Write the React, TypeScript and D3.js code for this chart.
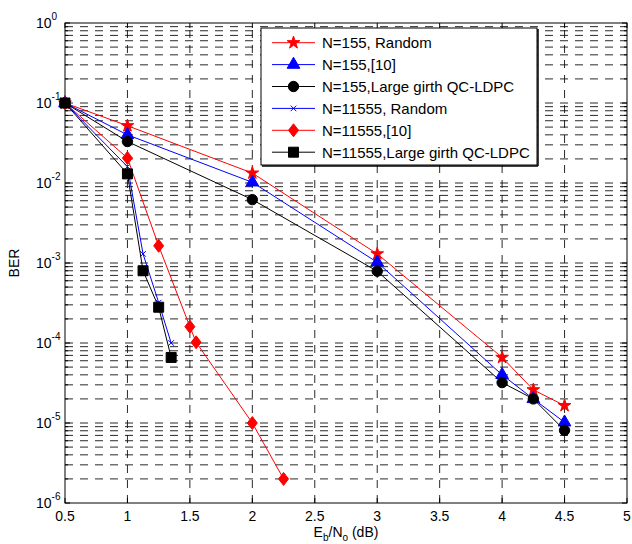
import React, { useEffect, useRef } from 'react';
import * as d3 from 'd3';

// Eb/N0 (dB) and BER for each curve
const n155RandomX = [0.5, 1, 2, 3, 4, 4.25, 4.5];
const n155RandomY = [0.1, 0.052, 0.0133, 0.0013, 6.6e-5, 2.6e-5, 1.65e-5];

const n155RefX = [0.5, 1, 2, 3, 4, 4.25, 4.5];
const n155RefY = [0.1, 0.04, 0.0102, 1.02e-3, 4e-5, 2e-5, 1.02e-5];

const n155QcX = [0.5, 1, 2, 3, 4, 4.25, 4.5];
const n155QcY = [0.1, 0.033, 0.0062, 7.9e-4, 3.2e-5, 2e-5, 8.1e-6];

const n11555RandomX = [0.5, 1, 1.125, 1.25, 1.35];
const n11555RandomY = [0.1, 0.016, 1.3e-3, 3.2e-4, 1e-4];

const n11555RefX = [0.5, 1, 1.25, 1.5, 1.55, 2, 2.25];
const n11555RefY = [0.1, 0.0205, 1.64e-3, 1.6e-4, 1.02e-4, 1e-5, 2e-6];

const n11555QcX = [0.5, 1, 1.125, 1.25, 1.35];
const n11555QcY = [0.1, 0.013, 8e-4, 2.8e-4, 6.6e-5];

const xTicks = [0.5, 1, 1.5, 2, 2.5, 3, 3.5, 4, 4.5, 5];
const yExponents = [0, -1, -2, -3, -4, -5, -6];

const series = [
  { name: 'N=155, Random', xs: n155RandomX, ys: n155RandomY, color: '#ff0000', marker: 'star' },
  { name: 'N=155,[10]', xs: n155RefX, ys: n155RefY, color: '#0000ff', marker: 'triangle' },
  { name: 'N=155,Large girth QC-LDPC', xs: n155QcX, ys: n155QcY, color: '#000000', marker: 'circle' },
  { name: 'N=11555, Random', xs: n11555RandomX, ys: n11555RandomY, color: '#0000ff', marker: 'x' },
  { name: 'N=11555,[10]', xs: n11555RefX, ys: n11555RefY, color: '#ff0000', marker: 'diamond' },
  { name: 'N=11555,Large girth QC-LDPC', xs: n11555QcX, ys: n11555QcY, color: '#000000', marker: 'square' },
];

const FONT = 'Arial, "Liberation Sans", sans-serif';

function markerPath(kind: string): string {
  switch (kind) {
    case 'star': return d3.symbol(d3.symbolStar, 50)() as string;
    case 'triangle': return d3.symbol(d3.symbolTriangle, 70)() as string;
    case 'circle': return d3.symbol(d3.symbolCircle, 85)() as string;
    case 'square': return d3.symbol(d3.symbolSquare, 100)() as string;
    case 'x': return d3.symbol(d3.symbolX, 22)() as string;
    default: return 'M0,-6.5L5,0L0,6.5L-5,0Z';
  }
}

function App() {
  const ref = useRef<SVGSVGElement>(null);

  useEffect(() => {
    const svg = d3.select(ref.current);
    svg.selectAll('*').remove();

    const left = 65, right = 627, top = 23, bottom = 503;
    const x = d3.scaleLinear().domain([0.5, 5]).range([left, right]);
    const y = d3.scaleLog().domain([1e-6, 1]).range([bottom, top]);

    svg.append('rect').attr('width', 632).attr('height', 544).attr('fill', '#fff');

    // grid
    const grid = svg.append('g')
      .attr('stroke', '#111')
      .attr('stroke-width', 0.9)
      .attr('stroke-dasharray', '8,7')
      .attr('fill', 'none');

    xTicks.slice(1, -1).forEach(t => {
      grid.append('line')
        .attr('x1', x(t)).attr('x2', x(t))
        .attr('y1', bottom).attr('y2', top);
    });

    const yGrid: number[] = [];
    for (let e = -6; e < 0; e++) {
      for (let m = 1; m <= 9; m++) {
        const v = m * Math.pow(10, e);
        if (e === -6 && m === 1) continue;
        yGrid.push(v);
      }
    }
    yGrid.forEach(v => {
      grid.append('line')
        .attr('x1', left).attr('x2', right)
        .attr('y1', y(v)).attr('y2', y(v));
    });

    // ticks
    const ticks = svg.append('g').attr('stroke', '#000').attr('stroke-width', 1);
    xTicks.forEach(t => {
      ticks.append('line').attr('x1', x(t)).attr('x2', x(t)).attr('y1', bottom).attr('y2', bottom - 5);
      ticks.append('line').attr('x1', x(t)).attr('x2', x(t)).attr('y1', top).attr('y2', top + 5);
    });
    yGrid.concat([1e-6, 1]).forEach(v => {
      const major = Math.abs(Math.log10(v) - Math.round(Math.log10(v))) < 1e-9;
      const len = major ? 5 : 3;
      ticks.append('line').attr('x1', left).attr('x2', left + len).attr('y1', y(v)).attr('y2', y(v));
      ticks.append('line').attr('x1', right).attr('x2', right - len).attr('y1', y(v)).attr('y2', y(v));
    });

    svg.append('rect')
      .attr('x', left).attr('y', top)
      .attr('width', right - left).attr('height', bottom - top)
      .attr('fill', 'none').attr('stroke', '#000').attr('stroke-width', 1);

    // tick labels
    const xl = svg.append('g').attr('font-family', FONT).attr('font-size', 14).attr('fill', '#000');
    xTicks.forEach(t => {
      xl.append('text').attr('x', x(t)).attr('y', 521).attr('text-anchor', 'middle').text(String(t));
    });

    yExponents.forEach(e => {
      const ty = y(Math.pow(10, e));
      const txt = xl.append('text').attr('x', 36).attr('y', ty + 5);
      txt.append('tspan').text('10');
      txt.append('tspan').attr('font-size', 10).attr('dy', -8).text(String(e));
    });

    // axis labels
    svg.append('text')
      .attr('font-family', FONT).attr('font-size', 14)
      .attr('text-anchor', 'middle')
      .attr('transform', `translate(19,${(top + bottom) / 2}) rotate(-90)`)
      .text('BER');

    const xlab = svg.append('text')
      .attr('font-family', FONT).attr('font-size', 14)
      .attr('x', 346).attr('y', 537).attr('text-anchor', 'middle');
    xlab.append('tspan').text('E');
    xlab.append('tspan').attr('font-size', 10).attr('dy', 4).text('b');
    xlab.append('tspan').attr('dy', -4).text('/N');
    xlab.append('tspan').attr('font-size', 10).attr('dy', 4).text('o');
    xlab.append('tspan').attr('dy', -4).text(' (dB)');

    // data
    const line = d3.line<[number, number]>().x(d => x(d[0])).y(d => y(d[1]));
    series.forEach(s => {
      const pts = s.xs.map((v, i) => [v, s.ys[i]] as [number, number]);
      svg.append('path')
        .attr('d', line(pts))
        .attr('fill', 'none').attr('stroke', s.color).attr('stroke-width', 1);
      svg.append('g').selectAll('path').data(pts).join('path')
        .attr('transform', d => `translate(${x(d[0])},${y(d[1])})`)
        .attr('d', markerPath(s.marker))
        .attr('fill', s.marker === 'x' ? 'none' : s.color)
        .attr('stroke', s.color)
        .attr('stroke-width', 1);
    });

    // legend
    const lx = 261, ly = 28, lw = 276, lh = 137;
    const lg = svg.append('g');
    lg.append('rect').attr('x', lx).attr('y', ly).attr('width', lw).attr('height', lh)
      .attr('fill', '#fff').attr('stroke', '#000').attr('stroke-width', 1);
    lg.append('line').attr('x1', lx + 1).attr('x2', lx + lw + 1).attr('y1', ly + lh + 1).attr('y2', ly + lh + 1)
      .attr('stroke', '#000').attr('stroke-width', 1.5);
    lg.append('line').attr('x1', lx + lw + 1).attr('x2', lx + lw + 1).attr('y1', ly + 1).attr('y2', ly + lh + 1)
      .attr('stroke', '#000').attr('stroke-width', 1.5);

    series.forEach((s, i) => {
      const ry = 42.7 + i * 21.9;
      lg.append('line').attr('x1', 272).attr('x2', 315).attr('y1', ry).attr('y2', ry)
        .attr('stroke', s.color).attr('stroke-width', 1);
      lg.append('path')
        .attr('transform', `translate(293.5,${ry})`)
        .attr('d', markerPath(s.marker))
        .attr('fill', s.marker === 'x' ? 'none' : s.color)
        .attr('stroke', s.color).attr('stroke-width', 1);
      lg.append('text')
        .attr('x', 322).attr('y', ry + 5.5)
        .attr('font-family', FONT).attr('font-size', 15)
        .text(s.name);
    });
  }, []);

  return (
    <svg ref={ref} width={632} height={544}
      style={{ position: 'absolute', left: 0, top: 0, display: 'block' }} />
  );
}

export default App;
